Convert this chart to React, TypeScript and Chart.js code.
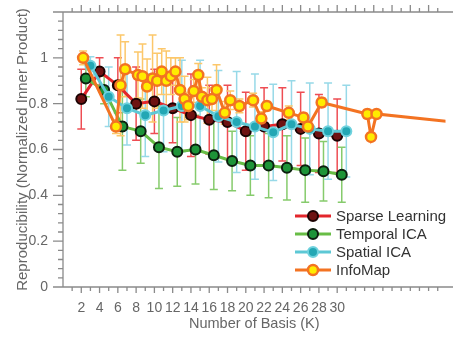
import React, { useEffect, useRef } from 'react';
import { Chart, registerables } from 'chart.js';

Chart.register(...registerables);

// ---- data ----
const sparseK = [2, 4, 6, 8, 10, 12, 14, 16, 18, 20, 22, 24, 26, 28, 30];
const sparseMean = [0.82, 0.94, 0.88, 0.8, 0.81, 0.78, 0.75, 0.73, 0.72, 0.68, 0.7, 0.71, 0.69, 0.67, 0.66];
const sparseErr = [0.13, 0.06, 0.12, 0.16, 0.14, 0.15, 0.18, 0.15, 0.16, 0.17, 0.17, 0.16, 0.16, 0.17, 0.16];

const temporalK = [2.5, 4.5, 6.5, 8.5, 10.5, 12.5, 14.5, 16.5, 18.5, 20.5, 22.5, 24.5, 26.5, 28.5, 30.5];
const temporalMean = [0.91, 0.86, 0.7, 0.68, 0.61, 0.59, 0.6, 0.575, 0.55, 0.53, 0.53, 0.52, 0.51, 0.505, 0.49];
const temporalErr = [0.08, 0.06, 0.19, 0.14, 0.18, 0.15, 0.15, 0.15, 0.13, 0.13, 0.14, 0.14, 0.14, 0.13, 0.12];

const spatialK = [3, 5, 7, 9, 11, 13, 15, 17, 19, 21, 23, 25, 27, 29, 31];
const spatialMean = [0.965, 0.83, 0.78, 0.75, 0.77, 0.79, 0.79, 0.745, 0.72, 0.7, 0.675, 0.71, 0.69, 0.68, 0.68];
const spatialErr = [0.04, 0.13, 0.16, 0.18, 0.18, 0.2, 0.2, 0.2, 0.22, 0.23, 0.21, 0.19, 0.2, 0.21, 0.2];

const infoK = [2.2, 5.8, 6.3, 6.8, 8.2, 8.7, 9.2, 9.8, 10.3, 10.8, 11.3, 11.8, 12.3, 12.8, 13.3, 13.7, 14.3, 14.8, 15.2, 15.8, 16.3, 16.8, 17.7, 18.3, 19.3, 20.8, 21.7, 22.3, 24.7, 26.3, 26.8, 28.3, 33.3, 33.7, 34.3, 45];
const infoMean = [1.0, 0.7, 0.88, 0.95, 0.925, 0.92, 0.875, 0.91, 0.9, 0.94, 0.9, 0.92, 0.94, 0.86, 0.82, 0.79, 0.855, 0.925, 0.83, 0.815, 0.82, 0.86, 0.76, 0.815, 0.79, 0.815, 0.735, 0.79, 0.76, 0.74, 0.7, 0.805, 0.755, 0.655, 0.755, 0.71];
const infoErr = [0.03, 0.03, 0.22, 0.12, 0.1, 0.14, 0.12, 0.19, 0.12, 0.1, 0.13, 0.08, 0.06, 0.14, 0.1, 0.06, 0.05, 0.05, 0.04, 0.1, 0.05, 0.11, 0.05, 0.04, 0.03, 0.03, 0.03, 0.02, 0.03, 0.02, 0.02, 0.02, 0.02, 0.01, 0.01, 0];

const seriesNames = ['Sparse Learning', 'Temporal ICA', 'Spatial ICA', 'InfoMap'];
const xTickValues = [2, 4, 6, 8, 10, 12, 14, 16, 18, 20, 22, 24, 26, 28, 30];
const xMinorValues = [1, 2, 3, 4, 5, 6, 7, 8, 9, 10, 11, 12, 13, 14, 15, 16, 17, 18, 19, 20, 21, 22, 23, 24, 25, 26, 27, 28, 29, 30, 31, 32, 33, 34, 35, 36, 37, 38, 39, 40, 41];
const yTickValues = [0, 0.2, 0.4, 0.6, 0.8, 1, 1.2];
const yTickLabels = ['0', '0.2', '0.4', '0.6', '0.8', '1', ''];
const yMinorValues = [0.04, 0.08, 0.12, 0.16, 0.24, 0.28, 0.32, 0.36, 0.44, 0.48, 0.52, 0.56, 0.64, 0.68, 0.72, 0.76, 0.84, 0.88, 0.92, 0.96, 1.04, 1.08, 1.12, 1.16];

const FONT = '"Liberation Sans", Arial, sans-serif';

const styles = [
  { line: '#e3262c', fill: '#6e1212', border: '#1c0303', err: '#ee4d53' },
  { line: '#68bd46', fill: '#1d9438', border: '#0c1f0e', err: '#86cb6c' },
  { line: '#5dc8d5', fill: '#23a7b4', border: '#6fd2de', err: '#97d9e8' },
  { line: '#f37322', fill: '#ffec00', border: '#f37322', err: '#fcc76a' },
];

const seriesData = [
  { k: sparseK, m: sparseMean, e: sparseErr },
  { k: temporalK, m: temporalMean, e: temporalErr },
  { k: spatialK, m: spatialMean, e: spatialErr },
  { k: infoK, m: infoMean, e: infoErr },
];

const framePlugin = {
  id: 'framePlugin',
  beforeDatasetsDraw(chart: any) {
    const { ctx, chartArea: a } = chart;
    const x = chart.scales.x;
    const y = chart.scales.y;
    ctx.save();
    ctx.beginPath();
    ctx.rect(a.left, a.top, a.right - a.left, a.bottom - a.top);
    ctx.clip();
    ctx.lineWidth = 1.5;
    seriesData.forEach((s, si) => {
      ctx.strokeStyle = styles[si].err;
      s.k.forEach((kv, i) => {
        const err = s.e[i];
        if (!err) return;
        const px = x.getPixelForValue(kv);
        const p1 = y.getPixelForValue(s.m[i] + err);
        const p2 = y.getPixelForValue(s.m[i] - err);
        ctx.beginPath();
        ctx.moveTo(px, p1);
        ctx.lineTo(px, p2);
        ctx.moveTo(px - 4, p1);
        ctx.lineTo(px + 4, p1);
        ctx.moveTo(px - 4, p2);
        ctx.lineTo(px + 4, p2);
        ctx.stroke();
      });
    });
    ctx.restore();

    // frame and tick marks
    ctx.save();
    ctx.strokeStyle = '#8a8a8a';
    ctx.lineWidth = 1.3;
    ctx.beginPath();
    ctx.moveTo(a.left, a.top);
    ctx.lineTo(a.left, a.bottom);
    ctx.moveTo(a.left, a.bottom);
    ctx.lineTo(chart.width, a.bottom);
    ctx.moveTo(a.left, a.top);
    ctx.lineTo(chart.width, a.top);
    yTickValues.forEach((v) => {
      const py = y.getPixelForValue(v);
      ctx.moveTo(a.left - 10, py);
      ctx.lineTo(a.left, py);
    });
    yMinorValues.forEach((v) => {
      const py = y.getPixelForValue(v);
      ctx.moveTo(a.left - 5, py);
      ctx.lineTo(a.left, py);
    });
    xMinorValues.forEach((v) => {
      const px = x.getPixelForValue(v);
      const major = xTickValues.includes(v);
      const len = major ? 6 : 4;
      ctx.moveTo(px, a.bottom);
      ctx.lineTo(px, a.bottom + len);
      const tlen = v % 2 === 0 ? 7 : 4;
      ctx.moveTo(px, a.top);
      ctx.lineTo(px, a.top - tlen);
    });
    ctx.stroke();
    ctx.restore();
  },
  afterDraw(chart: any) {
    const { ctx, chartArea: a } = chart;
    ctx.save();
    const x0 = a.left + 232;
    const y0 = a.top + 204;
    const dy = 18;
    seriesNames.forEach((name, i) => {
      const st = styles[i];
      const yy = y0 + i * dy;
      ctx.strokeStyle = st.line;
      ctx.lineWidth = 3;
      ctx.beginPath();
      ctx.moveTo(x0, yy);
      ctx.lineTo(x0 + 36, yy);
      ctx.stroke();
      ctx.beginPath();
      ctx.arc(x0 + 18, yy, 5, 0, Math.PI * 2);
      ctx.fillStyle = st.fill;
      ctx.fill();
      ctx.lineWidth = i === 3 ? 2.5 : 2;
      ctx.strokeStyle = st.border;
      ctx.stroke();
      ctx.fillStyle = '#333';
      ctx.font = `15px ${FONT}`;
      ctx.textBaseline = 'middle';
      ctx.textAlign = 'left';
      ctx.fillText(name, x0 + 41, yy + 1);
    });
    ctx.restore();
  },
};

export default function App() {
  const ref = useRef<HTMLCanvasElement | null>(null);
  useEffect(() => {
    if (!ref.current) return;
    const datasets = seriesData.map((s, i) => ({
      label: seriesNames[i],
      data: s.k.map((kv, j) => ({ x: kv, y: s.m[j] })),
      borderColor: styles[i].line,
      borderWidth: 3,
      pointRadius: 5,
      pointBackgroundColor: styles[i].fill,
      pointBorderColor: styles[i].border,
      pointBorderWidth: i === 3 ? 2.5 : 2,
      tension: 0,
      order: 3 - i,
    }));
    const chart = new Chart(ref.current, {
      type: 'line',
      data: { datasets },
      options: {
        animation: false,
        responsive: true,
        maintainAspectRatio: false,
        layout: { padding: { top: 12, right: 0, left: 0, bottom: 0 } },
        plugins: { legend: { display: false }, tooltip: { enabled: false } },
        scales: {
          x: {
            type: 'linear',
            min: 0,
            max: 41.85,
            grid: { display: false, drawTicks: false },
            border: { display: false },
            afterBuildTicks: (scale: any) => {
              scale.ticks = xTickValues.map((v) => ({ value: v }));
            },
            afterFit: (scale: any) => {
              scale.height = 52;
              scale.paddingLeft = 0;
              scale.paddingRight = 0;
            },
            ticks: {
              autoSkip: false,
              maxRotation: 0,
              padding: 13,
              color: '#666',
              font: { family: FONT, size: 14 },
              callback: (v: any) => String(v),
            },
            title: {
              display: true,
              text: 'Number of Basis (K)',
              color: '#666',
              font: { family: FONT, size: 14.5 },
              padding: { top: 0, bottom: 6 },
            },
          },
          y: {
            type: 'linear',
            min: 0,
            max: 1.2,
            grid: { display: false, drawTicks: false },
            border: { display: false },
            afterBuildTicks: (scale: any) => {
              scale.ticks = yTickValues.map((v) => ({ value: v }));
            },
            afterFit: (scale: any) => {
              scale.width = 63;
              scale.paddingTop = 0;
              scale.paddingBottom = 0;
            },
            ticks: {
              padding: 15,
              color: '#666',
              font: { family: FONT, size: 14 },
              callback: (v: any) => {
                const idx = yTickValues.findIndex((t) => Math.abs(t - v) < 1e-6);
                return idx >= 0 ? yTickLabels[idx] : '';
              },
            },
            title: {
              display: true,
              text: 'Reproducibility (Normalized Inner Product)',
              color: '#666',
              font: { family: FONT, size: 15 },
              padding: { top: 14, bottom: 0 },
            },
          },
        },
      },
      plugins: [framePlugin],
    });
    return () => chart.destroy();
  }, []);
  return (
    <div style={{ position: 'fixed', left: 0, top: 0, width: 453, height: 339, background: '#fff' }}>
      <canvas ref={ref} />
    </div>
  );
}
